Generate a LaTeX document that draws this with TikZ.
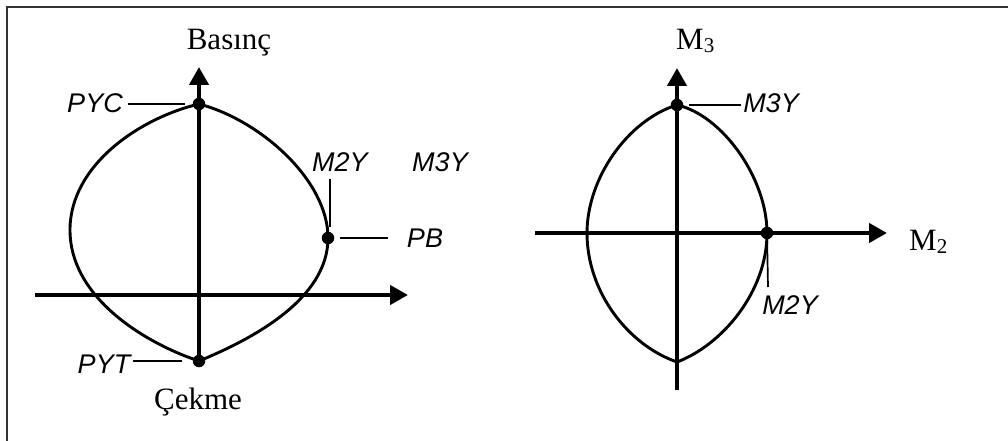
\documentclass[tikz,border=0pt]{standalone}
\usepackage{fontspec}
\setmainfont{Liberation Serif}
\newfontfamily\lsans{Liberation Sans}
\usetikzlibrary{arrows.meta}
\begin{document}
\begin{tikzpicture}[x=1pt,y=-1pt,
  axis/.style={line width=4.3pt,-{Triangle[length=18pt,width=19pt]}},
  curve/.style={line width=2.9pt},
  lead/.style={line width=1.7pt},
  dot/.style={circle,fill=black,inner sep=0pt,minimum size=12.5pt},
  lab/.style={font=\lsans\itshape\fontsize{27}{27}\selectfont,inner sep=0pt},
  ttl/.style={font=\fontsize{31}{31}\selectfont,inner sep=0pt}]
\useasboundingbox (0,0) rectangle (1008,441);
\coordinate (fb) at (7,441);
\coordinate (fc) at (7,7);
\coordinate (fr) at (1008,7);
\draw[line width=2pt,draw=black!80] (fb) -- (fc) -- (fr);

% ---------- left diagram ----------
\coordinate (lvb) at (199,361);
\coordinate (lvt) at (199,67);
\coordinate (lhl) at (35,295);
\coordinate (lhr) at (408,295);
\draw[curve] (199,104) .. controls (140,118) and (70,165) .. (70,230)
  .. controls (70,300) and (150,345) .. (199,361)
  .. controls (250,340) and (328,300) .. (328,238)
  .. controls (328,180) and (260,120) .. (199,104);
\draw[axis] (lvb) -- (lvt);
\draw[axis] (lhl) -- (lhr);
\node[dot] (dPYC) at (199,104) {};
\node[dot] (dPYT) at (199,361) {};
\node[dot] (dPB) at (328,238) {};

\node[ttl,anchor=base] (basinc) at (229,50) {Basınç};
\node[ttl,anchor=base] (cekme) at (198,409) {Çekme};
\node[lab] (lPYC) at (95,103) {PYC};
\node[lab] (lPYT) at (104,364) {PYT};
\node[lab] (lM2Y) at (340,162) {M2Y};
\node[lab] (lM3Y) at (440,162) {M3Y};
\node[lab] (lPB) at (425,238) {PB};

\draw[lead,shorten <=5pt,shorten >=8pt] (dPYC -| lPYC.east) -- (dPYC);
\draw[lead,shorten <=3pt,shorten >=11pt] (dPYT -| lPYT.east) -- (dPYT);
\coordinate (m2ya) at (330,179);
\coordinate (m2yb) at (330,227);
\draw[lead] (m2ya) -- (m2yb);
\draw[lead,shorten <=6pt,shorten >=19pt] (dPB) -- (dPB -| lPB.west);

% ---------- right diagram ----------
\coordinate (rvb) at (677,390);
\coordinate (rvt) at (677,68);
\coordinate (rhl) at (535,233);
\coordinate (rhr) at (887,233);
\draw[curve] (677,105) .. controls (628,120) and (587,178) .. (587,233)
  .. controls (587,292) and (628,345) .. (677,362)
  .. controls (722,345) and (767,292) .. (767,233)
  .. controls (767,178) and (722,115) .. (677,105);
\draw[axis] (rvb) -- (rvt);
\draw[axis] (rhl) -- (rhr);
\node[dot] (dM3Y) at (677,105) {};
\node[dot] (dM2Y) at (767,233) {};

\node[ttl,anchor=base west] (m3) at (676,50) {M{\fontsize{21}{21}\selectfont\raisebox{-3pt}{3}}};
\node[ttl,anchor=base west] (m2) at (909,250) {M{\fontsize{21}{21}\selectfont\raisebox{-3pt}{2}}};
\node[lab] (rM3Y) at (771,103) {M3Y};
\node[lab] (rM2Y) at (790,305) {M2Y};

\draw[lead,shorten <=6pt,shorten >=2pt] (dM3Y) -- (dM3Y -| rM3Y.west);
\coordinate (m2yr) at (768,287);
\draw[lead] (dM2Y) -- (m2yr);
\end{tikzpicture}
\end{document}
